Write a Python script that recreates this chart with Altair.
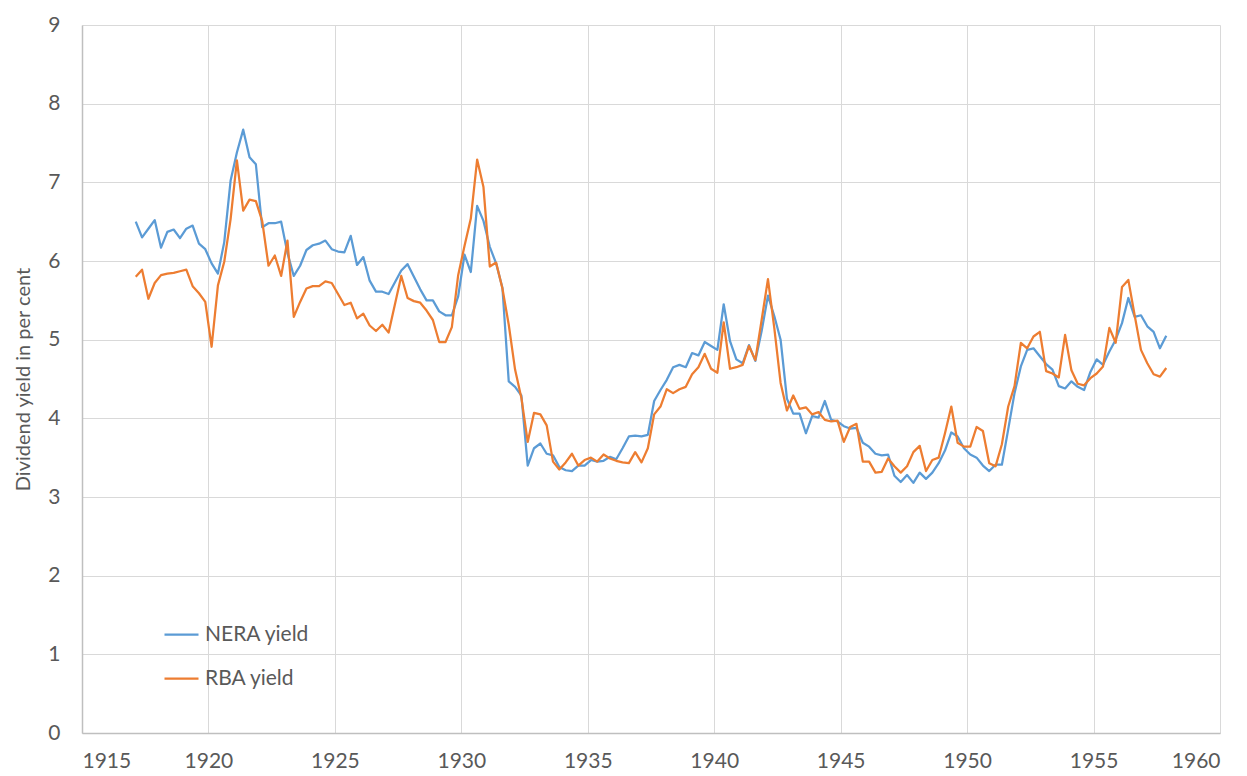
import altair as alt
import pandas as pd

# Quarterly observations, first at 1917.125, step 0.25 year
start_year = 1917.125
step = 0.25

nera = [6.50, 6.30, 6.41, 6.52, 6.17, 6.37, 6.40, 6.29, 6.41, 6.45,
        6.22, 6.15, 5.97, 5.84, 6.24, 7.02, 7.38, 7.67, 7.32, 7.23,
        6.43, 6.48, 6.48, 6.50, 6.10, 5.81, 5.94, 6.14, 6.20, 6.22,
        6.26, 6.15, 6.12, 6.11, 6.32, 5.95, 6.05, 5.75, 5.61, 5.61,
        5.58, 5.73, 5.88, 5.96, 5.80, 5.64, 5.50, 5.50, 5.36, 5.31,
        5.31, 5.55, 6.08, 5.86, 6.70, 6.51, 6.18, 5.97, 5.66, 4.47,
        4.40, 4.29, 3.40, 3.62, 3.68, 3.55, 3.53, 3.38, 3.34, 3.33,
        3.40, 3.40, 3.47, 3.45, 3.46, 3.51, 3.48, 3.62, 3.77, 3.78,
        3.77, 3.79, 4.22, 4.36, 4.49, 4.65, 4.68, 4.65, 4.83, 4.80,
        4.97, 4.92, 4.87, 5.45, 4.98, 4.75, 4.70, 4.93, 4.73, 5.11,
        5.56, 5.30, 5.00, 4.25, 4.06, 4.06, 3.81, 4.03, 4.01, 4.22,
        3.98, 3.96, 3.90, 3.87, 3.88, 3.69, 3.64, 3.55, 3.53, 3.54,
        3.27, 3.19, 3.28, 3.18, 3.31, 3.23, 3.31, 3.43, 3.59, 3.82,
        3.77, 3.62, 3.54, 3.50, 3.40, 3.33, 3.41, 3.41, 3.86, 4.32,
        4.66, 4.87, 4.89, 4.79, 4.69, 4.62, 4.41, 4.38, 4.47, 4.40,
        4.36, 4.59, 4.75, 4.68, 4.85, 5.00, 5.21, 5.53, 5.29, 5.31,
        5.17, 5.10, 4.89, 5.05]

rba = [5.80, 5.89, 5.52, 5.72, 5.82, 5.84, 5.85, 5.87, 5.89, 5.68,
       5.59, 5.48, 4.91, 5.69, 5.99, 6.53, 7.28, 6.64, 6.78, 6.76,
       6.51, 5.94, 6.07, 5.81, 6.26, 5.29, 5.48, 5.65, 5.68, 5.68,
       5.74, 5.72, 5.58, 5.44, 5.47, 5.27, 5.33, 5.18, 5.11, 5.19,
       5.09, 5.45, 5.81, 5.53, 5.49, 5.47, 5.37, 5.25, 4.97, 4.97,
       5.16, 5.82, 6.19, 6.54, 7.29, 6.94, 5.93, 5.98, 5.65, 5.19,
       4.62, 4.26, 3.70, 4.07, 4.05, 3.91, 3.45, 3.35, 3.44, 3.55,
       3.40, 3.47, 3.50, 3.45, 3.54, 3.49, 3.46, 3.44, 3.43, 3.57,
       3.44, 3.62, 4.05, 4.15, 4.37, 4.32, 4.37, 4.40, 4.56, 4.65,
       4.82, 4.63, 4.58, 5.22, 4.63, 4.65, 4.68, 4.92, 4.74, 5.25,
       5.77, 5.15, 4.45, 4.10, 4.29, 4.12, 4.14, 4.05, 4.08, 3.98,
       3.96, 3.97, 3.70, 3.89, 3.93, 3.45, 3.45, 3.31, 3.32, 3.49,
       3.39, 3.31, 3.39, 3.57, 3.65, 3.33, 3.47, 3.50, 3.81, 4.15,
       3.69, 3.64, 3.64, 3.89, 3.84, 3.43, 3.39, 3.67, 4.15, 4.41,
       4.96, 4.89, 5.04, 5.10, 4.60, 4.57, 4.52, 5.06, 4.61, 4.44,
       4.42, 4.51, 4.57, 4.66, 5.15, 4.96, 5.67, 5.76, 5.31, 4.87,
       4.70, 4.56, 4.53, 4.64]

series_names = ["NERA yield", "RBA yield"]
series_colors = ["#5B9BD5", "#ED7D31"]
x_ticks = [1915, 1920, 1925, 1930, 1935, 1940, 1945, 1950, 1955, 1960]
y_ticks = [0, 1, 2, 3, 4, 5, 6, 7, 8, 9]

rows = []
for name, vals in zip(series_names, [nera, rba]):
    for i, v in enumerate(vals):
        rows.append({"year": start_year + step * i, "value": v, "series": name})
df = pd.DataFrame(rows)

FONT = "Lato"
GREY = "#595959"

chart = alt.Chart(df).mark_line(strokeWidth=2.25, strokeJoin="round").encode(
    x=alt.X("year:Q",
            scale=alt.Scale(domain=[1915, 1960], nice=False, zero=False),
            axis=alt.Axis(values=x_ticks, format="d", title=None,
                          labelPadding=17, labelFontSize=21)),
    y=alt.Y("value:Q",
            scale=alt.Scale(domain=[0, 9], nice=False),
            axis=alt.Axis(values=y_ticks, title="Dividend yield in per cent",
                          labelPadding=22, labelFontSize=21, titlePadding=14)),
    color=alt.Color("series:N",
                    scale=alt.Scale(domain=series_names, range=series_colors),
                    legend=alt.Legend(title=None, orient="none",
                                      legendX=81, legendY=591,
                                      symbolType="stroke", symbolSize=1156,
                                      symbolStrokeWidth=2.25,
                                      labelFontSize=21, labelFont=FONT,
                                      labelColor=GREY, labelOffset=5,
                                      rowPadding=15)),
    order=alt.Order("year:Q"),
).properties(
    width=1138, height=708,
    autosize=alt.AutoSizeParams(type="none"),
    padding={"left": 74, "top": 17, "right": 15, "bottom": 43},
).configure_view(
    stroke=None
).configure_axis(
    domainColor="#BFBFBF", domainWidth=1.5,
    gridColor="#D9D9D9", gridWidth=1,
    ticks=False,
    labelColor=GREY, labelFont=FONT,
    titleColor=GREY, titleFont=FONT, titleFontSize=20, titleFontWeight="normal",
)

chart.save("out.html", embed_options={"renderer": "svg", "actions": False})
